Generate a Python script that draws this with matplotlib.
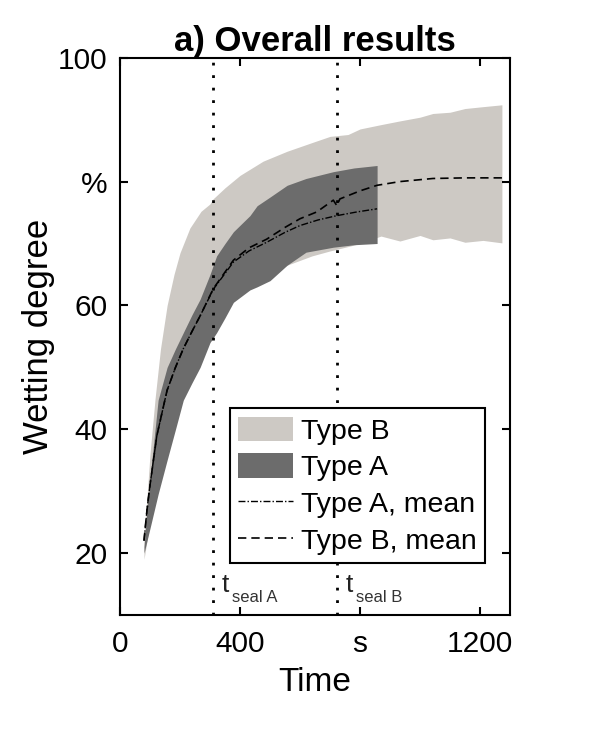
import numpy as np
import matplotlib
matplotlib.use('Agg')
import matplotlib.pyplot as plt
from matplotlib.patches import Patch
from matplotlib.lines import Line2D

plt.rcParams['font.family'] = ['Liberation Sans', 'DejaVu Sans']

# Type B band (light), time in s, wetting degree in %
b_t = [80, 90, 100, 117, 135, 157, 180, 200, 233, 270, 300, 310, 350, 400, 477,
       557, 640, 700, 760, 800, 870, 933, 1000, 1043, 1100, 1150, 1210, 1273]
b_hi = [22, 29, 36, 45, 53, 60, 65, 68.5, 72.5, 75.2, 76.4, 77.2, 79, 81, 83.3,
        84.9, 86.3, 87.3, 87.6, 88.5, 89.2, 89.8, 90.4, 91, 91.2, 91.8, 92.1, 92.4]
b_lo = [19, 22, 25, 30, 34, 38.5, 42, 45, 49, 53, 56, 57, 60, 62.5, 64.5,
        66.5, 68, 68.8, 69.5, 70, 71.2, 70.4, 71.3, 70.6, 70.9, 70.2, 70.5, 70.1]

# Type A band (dark)
a_t = [80, 90, 100, 127, 157, 185, 211, 240, 267, 300, 322, 350, 378, 433,
       457, 500, 557, 620, 711, 780, 857]
a_hi = [21, 27, 32, 44.7, 50, 53, 55.6, 58.5, 61, 65, 68, 70, 71.9, 74.5,
        76.1, 77.5, 79.4, 80.5, 81.6, 82.2, 82.6]
a_lo = [20, 22, 24, 29.5, 35, 40, 44.7, 47.5, 50, 54, 55.6, 58, 60.5, 62.5,
        63, 64, 66.5, 68.6, 69.4, 69.8, 70]

# means
am_t = [80, 90, 100, 123, 157, 185, 211, 240, 267, 311, 378, 430, 489, 550, 600, 660, 723, 790, 857]
am_v = [22, 27, 31, 39, 46.3, 50, 53, 55.8, 58.3, 62.6, 67, 68.8, 70.2, 71.8, 72.9, 73.8, 74.5, 75.1, 75.6]
bm_t = [80, 90, 100, 123, 157, 185, 211, 240, 267, 311, 378, 430, 489, 550, 600, 656, 711, 723,
        733, 800, 857, 933, 1043, 1150, 1277]
bm_v = [22, 27, 31, 39, 46.3, 50, 53, 55.8, 58.3, 62.7, 67.3, 69.3, 70.7, 72.6, 74, 75.1, 77, 76.1,
        77.2, 78.5, 79.4, 80, 80.5, 80.6, 80.6]

t_seal = [310, 723]
seal_subs = ['seal A', 'seal B']

xticks = [0, 400, 800, 1200]
xticklabels = ['0', '400', 's', '1200']
yticks = [20, 40, 60, 80, 100]
yticklabels = ['20', '40', '60', '%', '100']

light = '#cdc9c4'
dark = '#6c6c6c'

fig = plt.figure(figsize=(6, 7.5), dpi=100)
ax = fig.add_axes([0.2, 0.18, 0.65, 0.743])

ax.fill_between(b_t, b_lo, b_hi, color=light, lw=0)
ax.fill_between(a_t, a_lo, a_hi, color=dark, lw=0)
ax.plot(am_t, am_v, color='black', lw=1.0, ls=(0, (5, 1.5, 1, 1.5)))
ax.plot(bm_t, bm_v, color='black', lw=1.2, ls=(0, (5, 3)))

for ts, sub in zip(t_seal, seal_subs):
    ax.axvline(ts, color='black', lw=2, ls=(0, (1, 3.5)))
    ax.text(ts + 28, 13.7, 't', fontsize=19, va='baseline', ha='left', color='#222222')
    ax.annotate(sub, xy=(ts + 28, 13.7), xytext=(7.5, -7), textcoords='offset points',
                fontsize=12, va='baseline', ha='left', color='#333333')

ax.set_xlim(0, 1300)
ax.set_ylim(10, 100)
ax.set_xticks(xticks)
ax.set_xticklabels(xticklabels)
ax.set_yticks(yticks)
ax.set_yticklabels(yticklabels)
ax.tick_params(direction='in', top=True, right=True, length=6, width=1.5,
               labelsize=21.5)
ax.tick_params(axis='x', pad=11)
ax.tick_params(axis='y', pad=9)
for s in ax.spines.values():
    s.set_linewidth(1.5)

ax.set_xlabel('Time', fontsize=24, labelpad=6)
ax.set_ylabel('Wetting degree', fontsize=25, labelpad=2)
ax.set_title('a) Overall results', fontsize=25, fontweight='bold', pad=5)

handles = [Patch(facecolor=light, edgecolor='none'),
           Patch(facecolor=dark, edgecolor='none'),
           Line2D([], [], color='black', lw=1.0, ls=(0, (5, 1.5, 1, 1.5))),
           Line2D([], [], color='black', lw=1.2, ls=(0, (5, 3)))]
labels = ['Type B', 'Type A', 'Type A, mean', 'Type B, mean']
leg = ax.legend(handles, labels, loc='lower right', bbox_to_anchor=(0.937, 0.093),
                fontsize=20.5, fancybox=False, framealpha=1, edgecolor='black',
                handlelength=1.9, handleheight=0.95, labelspacing=0.3,
                handletextpad=0.3, borderpad=0.3, borderaxespad=0)
leg.get_frame().set_linewidth(1.5)

fig.savefig('out.png', dpi=100)
